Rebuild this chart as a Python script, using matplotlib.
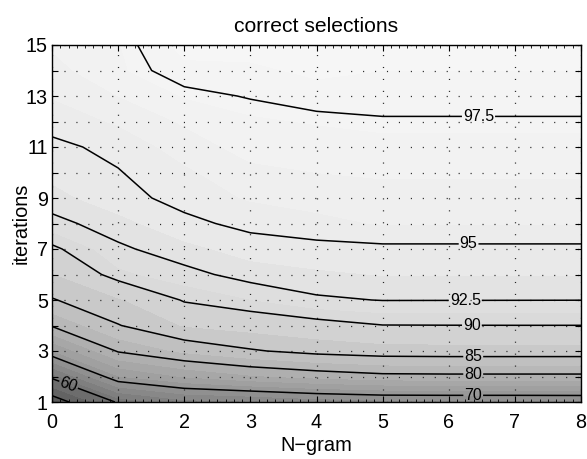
import numpy as np
import matplotlib
matplotlib.use("Agg")
import matplotlib.pyplot as plt
from matplotlib.colors import LinearSegmentedColormap, Normalize
from matplotlib.ticker import MultipleLocator

# ---------------- data ----------------
ngram = [0, 1, 2, 3, 4, 5, 6, 7, 8]
iterations = list(range(1, 16))

# correct selections (%) for each N-gram value, iterations 1..15
ng0 = [46.3, 61.2, 72.3, 80.3, 84.8, 87.3, 89.6, 92.0, 93.3, 94.1, 94.8, 95.3, 95.8, 96.2, 96.6]
ng1 = [60.7, 72.3, 80.3, 84.86, 87.2, 90.9, 92.2, 93.3, 94.5, 94.95, 95.23, 95.85, 96.5, 97.14, 97.21]
ng2 = [64.0, 75.2, 83.0, 87.65, 90.2, 92.0, 93.35, 94.64, 95.48, 95.6, 96.1, 96.6, 97.3, 97.85, 98.2]
ng3 = [64.65, 77.1, 84.7, 88.5, 91.2, 93.1, 94.3, 95.4, 95.8, 96.3, 96.8, 97.15, 97.55, 97.9, 98.2]
ng4 = [65.9, 78.3, 85.9, 89.25, 92.25, 93.5, 94.7, 95.56, 96.0, 96.5, 96.9, 97.3, 97.8, 98.1, 98.4]
ng5 = [66.6, 79.2, 86.5, 89.95, 92.55, 93.8, 94.8, 95.8, 96.2, 96.6, 97.0, 97.45, 97.7, 98.0, 98.2]
ng6 = [66.7, 79.3, 86.6, 89.97, 92.54, 93.8, 94.8, 95.8, 96.2, 96.6, 97.0, 97.45, 97.7, 98.0, 98.2]
ng7 = [66.7, 79.3, 86.6, 89.98, 92.53, 93.8, 94.8, 95.8, 96.2, 96.6, 97.0, 97.45, 97.7, 98.0, 98.3]
ng8 = [66.8, 79.3, 86.6, 89.98, 92.52, 93.8, 94.8, 95.8, 96.2, 96.6, 97.0, 97.45, 97.7, 98.0, 98.3]

unlabeled_levels = [50]
labeled_levels = [60, 70, 80, 85, 90, 92.5, 95, 97.5]
fill_levels = [40, 45, 50, 55, 60, 62.5, 65, 67.5, 70, 72.5, 75, 77.5, 80, 82.5, 85,
               87.5, 90, 91.25, 92.5, 93.75, 95, 95.75, 96.5, 97.25, 98, 99]

xtick_vals = [0, 1, 2, 3, 4, 5, 6, 7, 8]
ytick_vals = list(range(1, 16))
ytick_labels = [str(v) if v % 2 == 1 else "" for v in ytick_vals]

# ---------------- style ----------------
plt.rcParams["font.family"] = ["Liberation Sans", "DejaVu Sans"]
plt.rcParams["lines.scale_dashes"] = False

W, H = 587, 459
fig = plt.figure(figsize=(W / 100, H / 100), dpi=100)
ax = fig.add_axes([52 / W, 1 - 402 / H, (581 - 52) / W, (402 - 45) / H])

Z = np.array([ng0, ng1, ng2, ng3, ng4, ng5, ng6, ng7, ng8]).T
X, Y = np.meshgrid(ngram, iterations)

anchors = [(40, 0.30), (50, 0.37), (60, 0.45), (70, 0.58), (80, 0.70), (85, 0.77),
           (90, 0.84), (92.5, 0.88), (95, 0.92), (97.5, 0.955), (100, 0.98)]
vmin, vmax = 40, 100
cmap = LinearSegmentedColormap.from_list(
    "greys_custom", [((v - vmin) / (vmax - vmin), (g, g, g)) for v, g in anchors])
norm = Normalize(vmin=vmin, vmax=vmax)

ax.contourf(X, Y, Z, levels=fill_levels, cmap=cmap, norm=norm, zorder=1)
ax.contour(X, Y, Z, levels=unlabeled_levels, colors="k", linewidths=1.1, zorder=3)
cs = ax.contour(X, Y, Z, levels=labeled_levels, colors="k", linewidths=1.1, zorder=3)

ax.set_xlim(0, 8)
ax.set_ylim(1, 15)

label_spots = [(0.26, 1.74), (6.37, 1.3), (6.37, 2.1), (6.37, 2.78),
               (6.35, 4.0), (6.25, 5.0), (6.3, 7.2), (6.45, 12.2)]
ax.clabel(cs, inline=True, inline_spacing=1,
          fmt=lambda v: f"{v:g}", fontsize=11.5, manual=label_spots)

ax.set_xticks(xtick_vals)
ax.set_yticks(ytick_vals)
ax.set_yticklabels(ytick_labels)
ax.xaxis.set_minor_locator(MultipleLocator(0.125))

ax.set_axisbelow(False)
ax.grid(True, which="major", color="0.15", linestyle=(0, (0.8, 7.8)), linewidth=0.9)

ax.tick_params(which="major", direction="in", top=True, right=True, length=4,
               width=0.8, labelsize=14.2)
ax.tick_params(axis="x", which="major", pad=8)
ax.tick_params(axis="y", which="major", pad=3)
ax.tick_params(which="minor", direction="in", top=True, right=False, length=2, width=0.6)
for sp in ax.spines.values():
    sp.set_linewidth(1.0)
    sp.set_zorder(5)

ax.set_title("correct selections", fontsize=15.2, pad=9)
ax.set_xlabel("N\u2212gram", fontsize=14.4, labelpad=3)
ax.set_ylabel("iterations", fontsize=14.4, labelpad=-3.5)

fig.savefig("out.png", dpi=100)
